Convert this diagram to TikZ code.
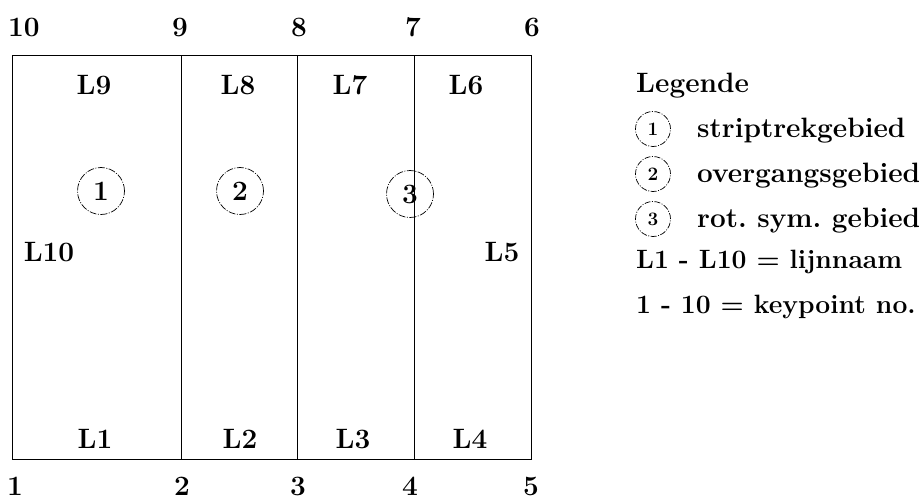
\documentclass[tikz,border=0pt]{standalone}
\begin{document}
\frenchspacing
\begin{tikzpicture}[x=1pt,y=-1pt,
  font=\fontsize{28}{33}\selectfont\bfseries,
  frame/.style={line width=1pt},
  divider/.style={line width=0.7pt},
  lbl/.style={inner sep=0pt, anchor=center},
  region/.style={circle, draw, dash pattern=on 7pt off 1.5pt on 1pt off 1.5pt, line width=0.7pt, minimum size=47pt, inner sep=0pt},
  legcirc/.style={circle, draw, dash pattern=on 6pt off 1.5pt on 1pt off 1.5pt, line width=0.7pt, minimum size=35pt, inner sep=0pt, font=\fontsize{19}{22}\selectfont\bfseries},
  legtext/.style={anchor=base west, inner sep=0pt},
  legsmall/.style={legtext, font=\fontsize{26.5}{31}\selectfont\bfseries}]
\useasboundingbox (0,0) rectangle (923,500);
% keypoints
\coordinate (k1) at (12,459);
\coordinate (k2) at (181,459);
\coordinate (k3) at (297,459);
\coordinate (k4) at (414,459);
\coordinate (k5) at (531,459);
\coordinate (k6) at (531,56);
\coordinate (k7) at (414,56);
\coordinate (k8) at (297,56);
\coordinate (k9) at (181,56);
\coordinate (k10) at (12,56);
\draw[frame] (k1) -- (k5) -- (k6) -- (k10) -- cycle;
\draw[divider] (k2) -- (k9);
\draw[divider] (k3) -- (k8);
\draw[divider] (k4) -- (k7);
% keypoint numbers
\node[lbl] (n10) at (24,27) {10};
\node[lbl] (n9) at (180,27) {9};
\node[lbl] (n8) at (299,27) {8};
\node[lbl] (n7) at (413,27) {7};
\node[lbl] (n6) at (532,27) {6};
\node[lbl] (n1) at (15,486) {1};
\node[lbl] (n2) at (182,486) {2};
\node[lbl] (n3) at (298,486) {3};
\node[lbl] (n4) at (410,486) {4};
\node[lbl] (n5) at (531,486) {5};
% line names
\node[lbl] (l9) at (94,85) {L9};
\node[lbl] (l8) at (238,85) {L8};
\node[lbl] (l7) at (350,85) {L7};
\node[lbl] (l6) at (466,85) {L6};
\node[lbl] (l1) at (95,439) {L1};
\node[lbl] (l2) at (240,439) {L2};
\node[lbl] (l3) at (353,439) {L3};
\node[lbl] (l4) at (470,439) {L4};
\node[lbl] (l10) at (49,252) {L10};
\node[lbl] (l5) at (502,252) {L5};
% regions
\node[region] (r1) at (101,191) {1};
\node[region] (r2) at (240,191) {2};
\node[region] (r3) at (410,194) {3};
% legend
\node[legtext] (lg) at (636,93) {Legende};
\node[legcirc] (c1) at (653,129) {1};
\node[legcirc] (c2) at (653,174) {2};
\node[legcirc] (c3) at (653,219) {3};
\node[legtext] (t1) at (697,137) {striptrekgebied};
\node[legtext] (t2) at (697,182) {overgangsgebied};
\node[legtext] (t3) at (697,227) {rot. sym. gebied};
\node[legsmall] (t4) at (636,268) {L1 - L10 = lijnnaam};
\node[legsmall] (t5) at (636,313) {1 - 10 = keypoint no.};
\end{tikzpicture}
\end{document}
